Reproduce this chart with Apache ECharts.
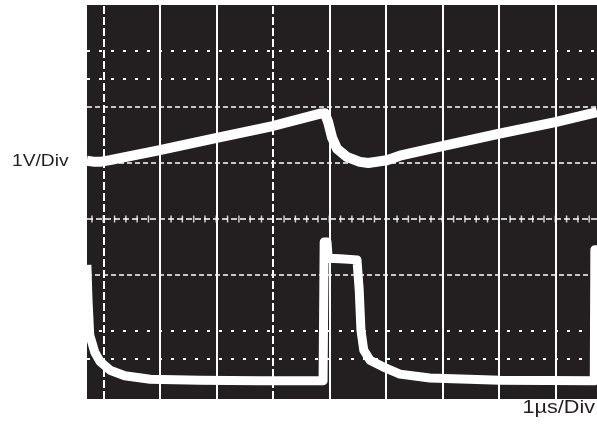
<!DOCTYPE html>
<html>
<head>
<meta charset="utf-8">
<script src="https://cdn.jsdelivr.net/npm/echarts@6/dist/echarts.min.js"></script>
<style>
html,body{margin:0;padding:0;background:#fff;}
#c{width:597px;height:429px;}
</style>
</head>
<body>
<div id="c"></div>
<script>
// time in µs (1 µs/div), voltage in V (1 V/div)
var upperTrace = [
  [-0.29, 1.04], [-0.15, 1.02], [-0.06, 1.02], [0.12, 1.05], [1.00, 1.23], [2.01, 1.45],
  [3.00, 1.66], [3.84, 1.88], [3.92, 1.89], [3.98, 1.73], [4.05, 1.45], [4.14, 1.25],
  [4.31, 1.11], [4.54, 1.02], [4.69, 1.00], [5.02, 1.05], [5.25, 1.13], [6.00, 1.30],
  [6.99, 1.52], [8.00, 1.73], [8.74, 1.91]
];
var lowerTrace = [
  [-0.29, -0.82], [-0.27, -1.45], [-0.24, -2.07], [-0.15, -2.38], [-0.06, -2.54], [0.12, -2.70],
  [0.38, -2.80], [0.83, -2.86], [1.71, -2.88], [2.77, -2.89], [3.85, -2.89], [3.89, -2.89],
  [3.91, -0.41], [3.96, -0.41], [3.98, -0.70], [4.19, -0.71], [4.49, -0.73], [4.53, -1.27],
  [4.56, -1.98], [4.61, -2.34], [4.72, -2.52], [4.95, -2.64], [5.25, -2.77], [5.78, -2.84],
  [7.02, -2.88], [8.69, -2.89], [8.70, -0.55], [8.74, -0.55]
];
var vGridSolid = [1, 2, 4, 5, 6, 7, 8];
var vGridDashed = [0, 3];
var hGridDense = [2, 1, -1];
var hGridSparse = [3, 2.5, -2, -2.5];
var centerLine = 0;
var xRange = [-0.288, 8.738];
var yRange = [-3.214, 3.821];
var yLabel = '1V/Div';
var xLabel = '1\u00b5s/Div';

var centerTicks = [];
for (var k = -1; k <= 43; k++) centerTicks.push([+(k * 0.2).toFixed(2), centerLine]);

var gridMarks = [];
vGridSolid.forEach(function (t) { gridMarks.push({ xAxis: t, lineStyle: { type: 'solid', width: 2 } }); });
vGridDashed.forEach(function (t) { gridMarks.push({ xAxis: t, lineStyle: { type: [8, 3], width: 2 } }); });
hGridDense.forEach(function (v) { gridMarks.push({ yAxis: v, lineStyle: { type: [5, 3], width: 1.5 } }); });
hGridSparse.forEach(function (v) { gridMarks.push({ yAxis: v, lineStyle: { type: [3, 9], width: 2 } }); });
gridMarks.push({ yAxis: centerLine, lineStyle: { type: [6, 3], width: 1.5 } });

var chart = echarts.init(document.getElementById('c'), null, { renderer: 'canvas' });
chart.setOption({
  animation: false,
  backgroundColor: '#ffffff',
  grid: { left: 87, right: 0, top: 5, bottom: 30, show: true, backgroundColor: '#231f20', borderWidth: 0 },
  xAxis: { type: 'value', min: xRange[0], max: xRange[1], show: false },
  yAxis: { type: 'value', min: yRange[0], max: yRange[1], show: false },
  series: [
    {
      type: 'line', data: [], z: 1, silent: true,
      markLine: { silent: true, symbol: 'none', label: { show: false },
        lineStyle: { color: '#ffffff' }, data: gridMarks }
    },
    {
      type: 'scatter', data: centerTicks, z: 2, silent: true,
      symbol: 'rect', symbolSize: [1.5, 7], itemStyle: { color: '#ffffff' }
    },
    {
      type: 'line', data: upperTrace, z: 5, showSymbol: false, silent: true,
      lineStyle: { color: '#ffffff', width: 10, join: 'round' }
    },
    {
      type: 'line', data: lowerTrace, z: 5, showSymbol: false, silent: true,
      lineStyle: { color: '#ffffff', width: 9, join: 'round' }
    }
  ],
  graphic: [
    { type: 'text', x: 12, y: 162, scaleX: 1.2,
      style: { text: yLabel, x: 0, y: 0, align: 'left', verticalAlign: 'middle',
        font: '16px "Liberation Sans", Arial, sans-serif', fill: '#231f20' } },
    { type: 'text', x: 595, y: 408, scaleX: 1.2,
      style: { text: xLabel, x: 0, y: 0, align: 'right', verticalAlign: 'middle',
        font: '18px "Liberation Sans", Arial, sans-serif', fill: '#231f20' } }
  ]
});
</script>
</body>
</html>
